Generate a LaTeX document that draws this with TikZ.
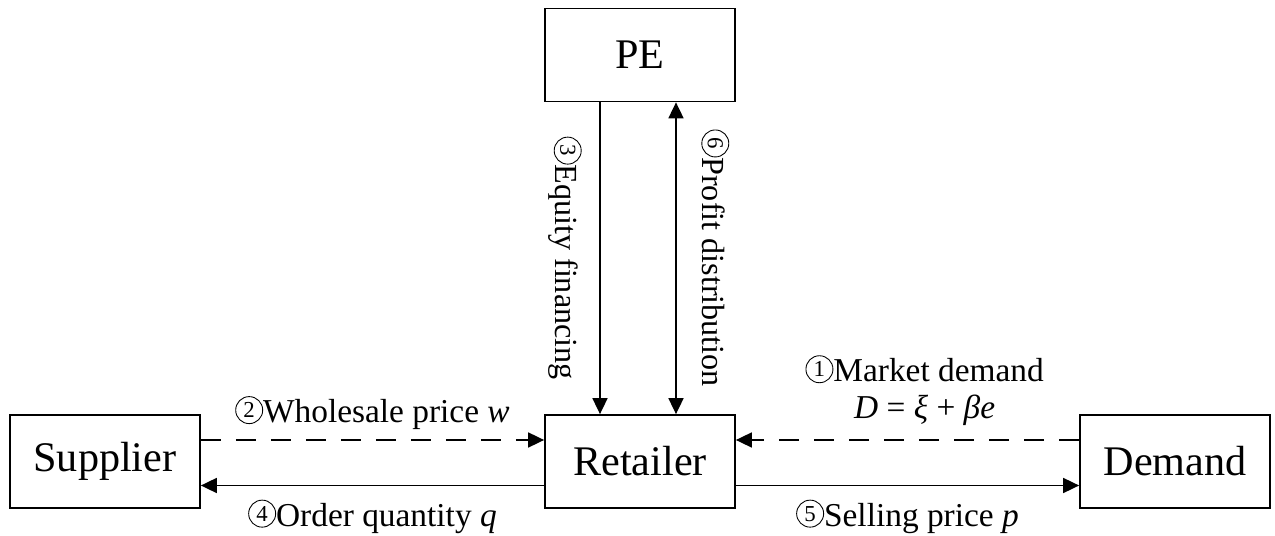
\documentclass[tikz,border=0pt]{standalone}
\usepackage{fontspec}
\setmainfont{Liberation Serif}
\usetikzlibrary{arrows.meta}

\tikzset{
  box/.style={draw, line width=1pt, minimum width=3.8cm, minimum height=1.86cm,
    font=\fontsize{24}{28}\selectfont},
  lbl/.style={font=\fontsize{19}{21}\selectfont},
  lblv/.style={font=\fontsize{18.3}{21}\selectfont, rotate=-90},
  flow/.style={line width=1pt, -{Triangle[length=0.32cm, width=0.3cm]}},
  flowboth/.style={line width=1pt, {Triangle[length=0.32cm, width=0.3cm]}-{Triangle[length=0.32cm, width=0.3cm]}},
  flowdash/.style={flow, dash pattern=on 0.4cm off 0.3cm},
}
% circled step number
\newcommand{\cnum}[1]{\tikz[baseline={([yshift=-0.1cm]n.base)}]\node[draw, circle, line width=0.5pt,
  inner sep=0pt, minimum size=0.54cm, font=\fontsize{13}{13}\selectfont] (n) {#1};}

\begin{document}
\begin{tikzpicture}
  \useasboundingbox (-12.8,-1.49) rectangle (12.7,9.23);
  \def\d{10.7}
  \def\h{8.13}
  \node[box] (PE) at (0, \h) {PE};
  \node[box] (S) at (-\d, 0) {Supplier};
  \node[box] (R) at (0, 0) {Retailer};
  \node[box] (D) at (\d, 0) {Demand};
  % supplier <-> retailer
  \draw[flowdash] ([yshift=0.43cm]S.east) -- node[lbl, above=0.08cm] {\cnum{2}Wholesale price \textit{w}} ([yshift=0.43cm]R.west);
  \draw[flow] ([yshift=-0.48cm]R.west) -- node[lbl, below=0.16cm] {\cnum{4}Order quantity \textit{q}} ([yshift=-0.48cm]S.east);
  % demand <-> retailer
  \draw[flowdash] ([yshift=0.43cm]D.west) -- node[lbl, above=0.16cm, pos=0.45, align=center] {\cnum{1}Market demand\\\textit{D} = \textit{ξ} + \textit{βe}} ([yshift=0.43cm]R.east);
  \draw[flow] ([yshift=-0.48cm]R.east) -- node[lbl, below=0.16cm] {\cnum{5}Selling price \textit{p}} ([yshift=-0.48cm]D.west);
  % PE <-> retailer
  \draw[flow] ([xshift=-0.8cm]PE.south) -- node[lblv, anchor=north, inner ysep=0.36cm] {\cnum{3}Equity financing} ([xshift=-0.8cm]R.north);
  \draw[flowboth] ([xshift=0.72cm]PE.south) -- node[lblv, anchor=south, inner ysep=0.5cm] {\cnum{6}Profit distribution} ([xshift=0.72cm]R.north);
\end{tikzpicture}
\end{document}
